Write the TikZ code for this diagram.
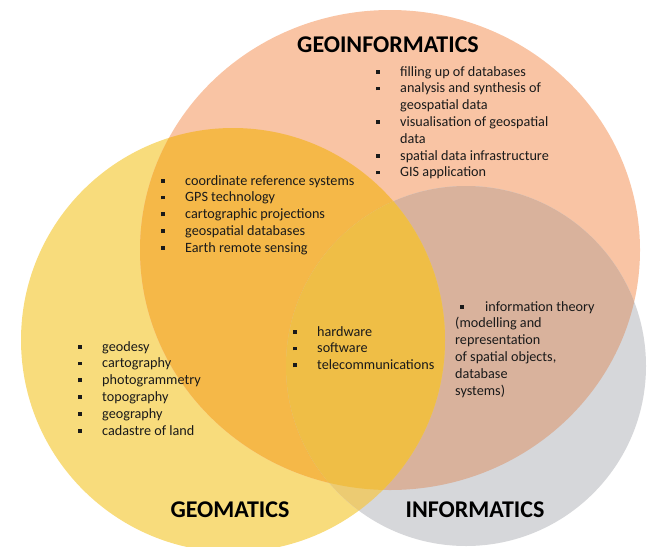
\documentclass[tikz,border=0pt]{standalone}
\usepackage{fontspec}
\setmainfont{Carlito}
\definecolor{ycol}{HTML}{F8DC7C}
\definecolor{ocol}{HTML}{F9C4A4}
\definecolor{gcol}{HTML}{D6D7DA}
\definecolor{yocol}{HTML}{F5B848}
\definecolor{ogcol}{HTML}{D9B29C}
\definecolor{ygcol}{HTML}{ECCB72}
\definecolor{yogcol}{HTML}{EFBE46}
\definecolor{txt}{HTML}{1A1A1A}
\newcommand{\bul}{\makebox[24pt][l]{\rule[2.4pt]{3.6pt}{3.8pt}}}
\newcommand{\ind}{\hspace*{24pt}}
\tikzset{
  title/.style={font=\fontsize{24}{28}\selectfont\bfseries, text=black, inner sep=0pt},
  list/.style={font=\fontsize{14.2}{16.8}\selectfont, text=txt, align=left, inner sep=0pt, anchor=north west}
}
\begin{document}
\begin{tikzpicture}[x=1pt,y=-1pt]
\useasboundingbox (0,0) rectangle (647,546);
\clip (0,0) rectangle (647,546);
\def\ycirc{(233,340) circle[radius=212]}
\def\ocirc{(390,250) ellipse[x radius=250,y radius=240]}
\def\gcirc{(466,366) circle[radius=180]}
\fill[ycol] \ycirc;
\fill[ocol] \ocirc;
\fill[gcol] \gcirc;
\begin{scope}\clip \ycirc; \fill[yocol] \ocirc; \end{scope}
\begin{scope}\clip \ocirc; \fill[ogcol] \gcirc; \end{scope}
\begin{scope}\clip \ycirc; \fill[ygcol] \gcirc; \end{scope}
\begin{scope}\clip \ycirc; \clip \ocirc; \fill[yogcol] \gcirc; \end{scope}

\node[title] (geoinf) at (388,45) {GEOINFORMATICS};
\node[title] (geomat) at (230,510) {GEOMATICS};
\node[title] (inf) at (475,510) {INFORMATICS};

\node[list] (l1) at (376,66) {\bul filling up of databases\\
\bul analysis and synthesis of\\
\ind geospatial data\\
\bul visualisation of geospatial\\
\ind data\\
\bul spatial data infrastructure\\
\bul GIS application};

\node[list] (l2) at (161,175) {\bul coordinate reference systems\\
\bul GPS technology\\
\bul cartographic projections\\
\bul geospatial databases\\
\bul Earth remote sensing};

\node[list] (l3) at (78,341) {\bul geodesy\\
\bul cartography\\
\bul photogrammetry\\
\bul topography\\
\bul geography\\
\bul cadastre of land};

\node[list] (l4) at (293,326) {\bul hardware\\
\bul software\\
\bul telecommunications};

\node[list] (l5) at (455,301) {\hspace*{5pt}\makebox[25pt][l]{\rule[2.4pt]{3.6pt}{3.8pt}}information theory\\
(modelling and\\
representation\\
of spatial objects,\\
database\\
systems)};
\end{tikzpicture}
\end{document}
